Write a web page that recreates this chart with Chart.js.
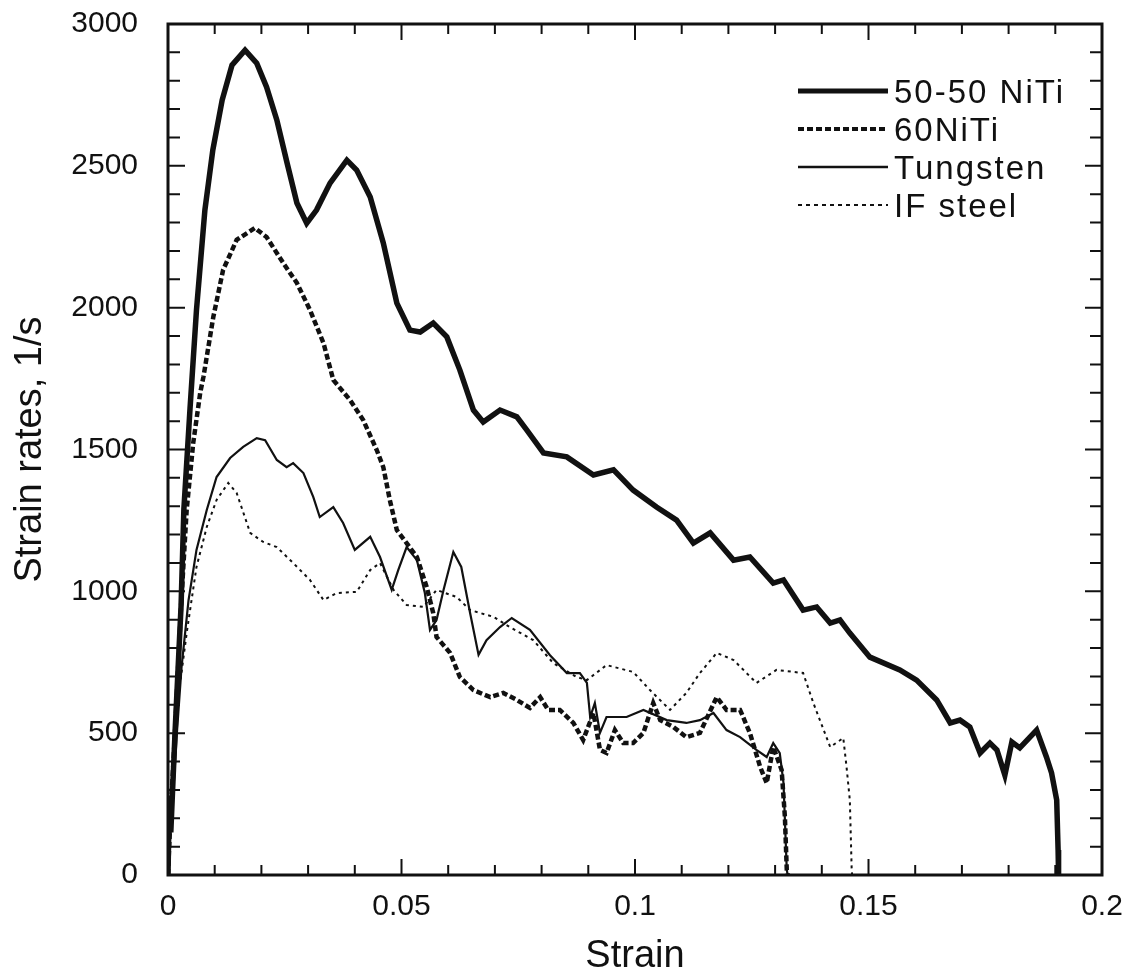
<!DOCTYPE html>
<html>
<head>
<meta charset="utf-8">
<script src="https://cdn.jsdelivr.net/npm/chart.js"></script>
<style>
  html, body { margin: 0; padding: 0; background: #fff; }
</style>
</head>
<body>
<canvas id="myChart" width="1127" height="979"></canvas>
<script>
// strain, strain rate (1/s) pairs
const niti5050 = [
  [0, 0], [0.0003, 280], [0.0006, 150], [0.0015, 500], [0.0028, 950], [0.0034, 1290],
  [0.0047, 1640], [0.0061, 1992], [0.0079, 2344], [0.0096, 2556], [0.0116, 2732],
  [0.0137, 2855], [0.0165, 2908], [0.019, 2862], [0.0211, 2778], [0.0233, 2662],
  [0.0255, 2510], [0.0276, 2369], [0.0297, 2298], [0.0318, 2344], [0.0347, 2439],
  [0.0383, 2520], [0.0404, 2485], [0.0433, 2390], [0.0461, 2228], [0.049, 2016],
  [0.0518, 1921], [0.054, 1914], [0.0568, 1946], [0.0597, 1897], [0.0625, 1780],
  [0.0654, 1639], [0.0675, 1597], [0.0711, 1639], [0.0747, 1615], [0.0768, 1569],
  [0.0804, 1488], [0.0854, 1474], [0.0911, 1410], [0.0954, 1428], [0.0996, 1357],
  [0.1046, 1297], [0.1089, 1251], [0.1125, 1170], [0.1161, 1206], [0.1211, 1110],
  [0.1246, 1121], [0.1296, 1029], [0.1318, 1040], [0.136, 934], [0.1389, 945],
  [0.1418, 888], [0.1439, 899], [0.146, 853], [0.1503, 768], [0.1567, 723],
  [0.1603, 687], [0.1646, 617], [0.1675, 536], [0.1696, 546], [0.1717, 522],
  [0.1739, 430], [0.176, 465], [0.1775, 441], [0.1792, 352], [0.1807, 469],
  [0.1824, 448], [0.186, 511], [0.1881, 416], [0.1892, 360], [0.1903, 264],
  [0.1906, 88], [0.1907, 0]
];
const niti60 = [
  [0, 0], [0.0005, 200], [0.0015, 500], [0.0028, 950], [0.004, 1287], [0.0054, 1523],
  [0.0069, 1700], [0.0076, 1757], [0.0097, 1967], [0.0118, 2133], [0.0147, 2239],
  [0.0186, 2281], [0.0211, 2249], [0.0247, 2157], [0.0276, 2087], [0.0304, 1992],
  [0.0333, 1875], [0.0354, 1745], [0.039, 1674], [0.0418, 1604], [0.0447, 1498],
  [0.0461, 1438], [0.0475, 1322], [0.049, 1216], [0.0511, 1170], [0.0533, 1121],
  [0.0554, 1015], [0.0568, 923], [0.0575, 839], [0.0604, 783], [0.0625, 698],
  [0.0654, 652], [0.069, 627], [0.0718, 642], [0.0747, 617], [0.0775, 589],
  [0.0797, 627], [0.0814, 582], [0.0839, 582], [0.0868, 536], [0.0889, 476],
  [0.0911, 571], [0.0925, 441], [0.0939, 430], [0.0957, 511], [0.0975, 465],
  [0.0996, 465], [0.1018, 501], [0.1039, 606], [0.1054, 546], [0.1082, 522],
  [0.111, 486], [0.1139, 501], [0.1175, 627], [0.1196, 582], [0.1225, 582],
  [0.1246, 501], [0.1268, 381], [0.1282, 324], [0.1296, 451], [0.1314, 370],
  [0.1321, 204], [0.1325, 18], [0.1327, 0]
];
const tungsten = [
  [0, 0], [0.0004, 120], [0.0008, 204], [0.0019, 500], [0.0029, 733], [0.0044, 969],
  [0.0061, 1146], [0.0083, 1287], [0.0104, 1403], [0.0133, 1470], [0.0161, 1509],
  [0.019, 1540], [0.0208, 1533], [0.0233, 1463], [0.0254, 1438], [0.0268, 1452],
  [0.029, 1417], [0.0311, 1333], [0.0325, 1262], [0.0354, 1297], [0.0375, 1241],
  [0.04, 1146], [0.0433, 1192], [0.0454, 1121], [0.0479, 1005], [0.0493, 1075],
  [0.0511, 1156], [0.0533, 1110], [0.055, 994], [0.0561, 864], [0.0575, 899],
  [0.059, 1005], [0.0611, 1139], [0.0628, 1086], [0.0647, 923], [0.0665, 776],
  [0.0682, 828], [0.0711, 874], [0.0736, 906], [0.0775, 864], [0.0818, 775],
  [0.0854, 712], [0.0882, 712], [0.0897, 677], [0.0904, 557], [0.0914, 606],
  [0.0925, 501], [0.0939, 557], [0.0982, 557], [0.1018, 582], [0.1068, 546],
  [0.111, 536], [0.1139, 546], [0.1168, 571], [0.1196, 511], [0.1225, 486],
  [0.126, 441], [0.1282, 416], [0.1296, 465], [0.131, 430], [0.1318, 324],
  [0.1325, 18], [0.1327, 0]
];
const ifSteel = [
  [0, 0], [0.0008, 250], [0.002, 600], [0.004, 853], [0.0061, 1086], [0.0083, 1227],
  [0.0104, 1322], [0.0129, 1382], [0.0147, 1347], [0.0176, 1206], [0.0204, 1174],
  [0.0233, 1156], [0.0268, 1100], [0.0304, 1040], [0.0333, 969], [0.0361, 994],
  [0.0404, 998], [0.0433, 1075], [0.0454, 1100], [0.0483, 1005], [0.0511, 952],
  [0.0547, 945], [0.0575, 1005], [0.0618, 980], [0.0647, 934], [0.0697, 910],
  [0.0732, 874], [0.0782, 828], [0.0825, 747], [0.0875, 698], [0.0897, 687],
  [0.0939, 740], [0.0996, 716], [0.1032, 652], [0.1075, 582], [0.111, 642],
  [0.1139, 712], [0.1175, 783], [0.1211, 758], [0.126, 677], [0.1303, 723],
  [0.136, 712], [0.1382, 606], [0.1418, 451], [0.1446, 483], [0.1453, 381],
  [0.146, 264], [0.1464, 18], [0.1465, 0]
];

const seriesLabels = ['50-50 NiTi', '60NiTi', 'Tungsten', 'IF steel'];
const xTicks = [0, 0.05, 0.1, 0.15, 0.2];
const yTicks = [0, 500, 1000, 1500, 2000, 2500, 3000];

const ink = '#111';
const fontFamily = "'Liberation Sans', Arial, sans-serif";
Chart.defaults.font.family = fontFamily;
Chart.defaults.color = ink;

function toPoints(arr) {
  return arr.map(function (p) { return { x: p[0], y: p[1] }; });
}

// inward ticks on all four sides, the box and the legend
const frameAndLegend = {
  id: 'frameAndLegend',
  afterDraw(chart) {
    const ctx = chart.ctx;
    const a = chart.chartArea;
    const xs = chart.scales.x;
    const ys = chart.scales.y;
    ctx.save();
    ctx.strokeStyle = ink;
    ctx.lineWidth = 2;
    ctx.beginPath();
    for (let i = 0; i <= 20; i++) {
      const px = xs.getPixelForValue(i / 100);
      const len = i % 5 === 0 ? 16 : 10;
      ctx.moveTo(px, a.bottom); ctx.lineTo(px, a.bottom - len);
      ctx.moveTo(px, a.top); ctx.lineTo(px, a.top + len);
    }
    for (let j = 0; j <= 30; j++) {
      const py = ys.getPixelForValue(j * 100);
      const len = j % 5 === 0 ? 17 : 12;
      ctx.moveTo(a.left, py); ctx.lineTo(a.left + len, py);
      ctx.moveTo(a.right, py); ctx.lineTo(a.right - len, py);
    }
    ctx.stroke();
    ctx.lineWidth = 3;
    ctx.strokeRect(a.left, a.top, a.right - a.left, a.bottom - a.top);

    // legend
    const legendDash = [[], [6, 3], [], [4, 4]];
    const legendWidth = [5, 4, 2.5, 2];
    ctx.font = '33px ' + fontFamily;
    ctx.textBaseline = 'middle';
    ctx.textAlign = 'left';
    ctx.fillStyle = ink;
    if ('letterSpacing' in ctx) ctx.letterSpacing = '2px';
    chart.data.datasets.forEach(function (ds, i) {
      const yy = 91 + i * 38;
      ctx.beginPath();
      ctx.setLineDash(legendDash[i]);
      ctx.lineWidth = legendWidth[i];
      ctx.moveTo(798, yy);
      ctx.lineTo(888, yy);
      ctx.stroke();
      ctx.setLineDash([]);
      ctx.fillText(ds.label, 894, yy + 3);
    });
    ctx.restore();
  }
};

const data = {
  datasets: [
    { label: seriesLabels[0], data: toPoints(niti5050), borderColor: ink, borderWidth: 5.5 },
    { label: seriesLabels[1], data: toPoints(niti60), borderColor: ink, borderWidth: 4.5, borderDash: [6, 3] },
    { label: seriesLabels[2], data: toPoints(tungsten), borderColor: ink, borderWidth: 2.2 },
    { label: seriesLabels[3], data: toPoints(ifSteel), borderColor: ink, borderWidth: 2, borderDash: [3, 4] }
  ]
};

const config = {
  type: 'line',
  data: data,
  options: {
    responsive: false,
    animation: false,
    parsing: false,
    elements: { point: { radius: 0 }, line: { tension: 0, fill: false } },
    layout: { padding: { left: 0, top: 24, right: 25, bottom: 0 } },
    plugins: {
      legend: { display: false },
      tooltip: { enabled: false }
    },
    scales: {
      x: {
        type: 'linear',
        min: 0,
        max: 0.2,
        afterFit: function (s) { s.height = 104; s.paddingLeft = 0; s.paddingRight = 0; },
        afterBuildTicks: function (s) { s.ticks = xTicks.map(function (v) { return { value: v }; }); },
        grid: { display: false, drawTicks: false },
        border: { display: false },
        ticks: {
          padding: 14,
          font: { size: 30 },
          color: ink,
          maxRotation: 0,
          callback: function (v) { return String(+v.toFixed(2)); }
        },
        title: {
          display: true,
          text: 'Strain',
          font: { size: 38 },
          color: ink,
          padding: { top: 0, bottom: 0 }
        }
      },
      y: {
        type: 'linear',
        min: 0,
        max: 3000,
        afterFit: function (s) { s.width = 168; s.paddingTop = 0; s.paddingBottom = 0; },
        afterBuildTicks: function (s) { s.ticks = yTicks.map(function (v) { return { value: v }; }); },
        grid: { display: false, drawTicks: false },
        border: { display: false },
        ticks: {
          padding: 30,
          font: { size: 30 },
          color: ink,
          callback: function (v) { return String(v); }
        },
        title: {
          display: true,
          text: 'Strain rates, 1/s',
          font: { size: 38 },
          color: ink,
          padding: { top: 8, bottom: 0 }
        }
      }
    }
  },
  plugins: [frameAndLegend]
};

const myChart = new Chart(document.getElementById('myChart'), config);
</script>
</body>
</html>
